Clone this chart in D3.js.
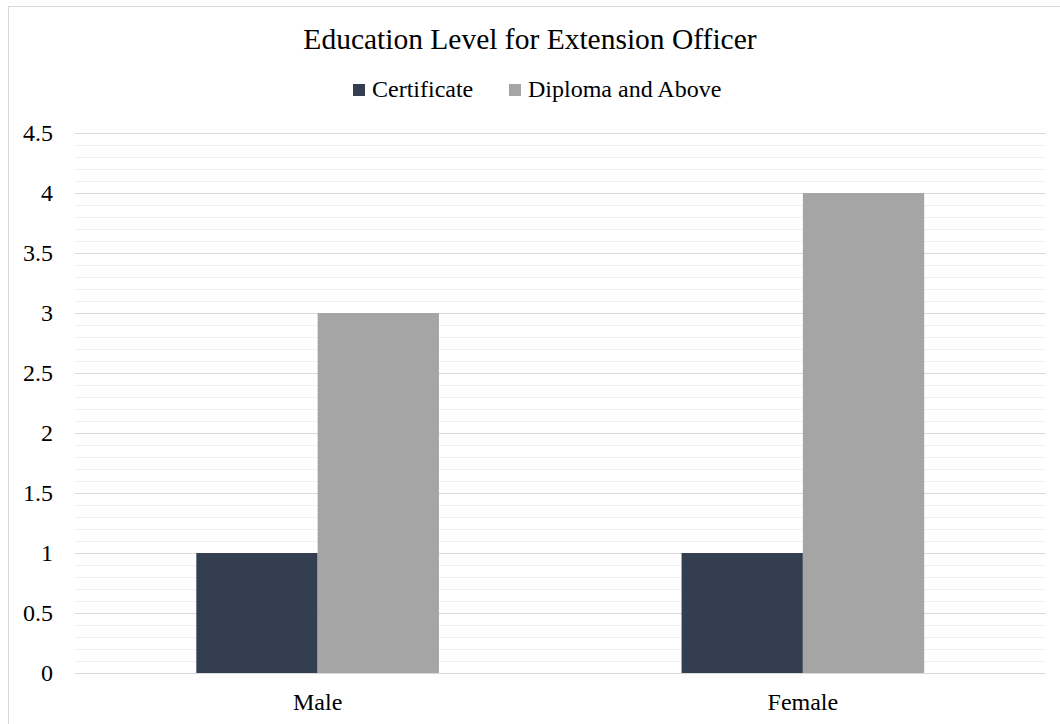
<!DOCTYPE html>
<html>
<head>
<meta charset="utf-8">
<script src="https://cdn.jsdelivr.net/npm/d3@7"></script>
<style>
  body { margin: 0; background: #fff; }
</style>
</head>
<body>
<div id="chart"></div>
<script>
// chart data
const categories = ["Male", "Female"];
const seriesNames = ["Certificate", "Diploma and Above"];
const certificateValues = [1, 1];
const diplomaValues = [3, 4];
const yTicks = [0, 0.5, 1, 1.5, 2, 2.5, 3, 3.5, 4, 4.5];
const colors = ["#333f50", "#a5a5a5"];

const svgWidth = 1060, svgHeight = 724;
const plot = { left: 75, right: 1045.5, top: 133, bottom: 673 };
const serif = "'Liberation Serif', Tinos, 'Times New Roman', 'DejaVu Serif', serif";

const svg = d3.select("#chart")
    .append("svg")
    .attr("width", svgWidth)
    .attr("height", svgHeight)
    .style("font-family", serif);

// outer chart border
svg.append("rect")
    .attr("x", 8.5).attr("y", 6.5)
    .attr("width", svgWidth).attr("height", svgHeight)
    .attr("fill", "none")
    .attr("stroke", "#d9d9d9");

const y = d3.scaleLinear().domain([0, 4.5]).range([plot.bottom, plot.top]);

const x0 = d3.scaleBand()
    .domain(categories)
    .range([plot.left, plot.right])
    .padding(0);

const x1 = d3.scaleBand()
    .domain(seriesNames)
    .range([0, x0.bandwidth()])
    .paddingInner(0)
    .paddingOuter(1);

// minor gridlines (0.1 step)
const minorTicks = d3.range(0, 46).map(d => d / 10).filter(d => Math.round(d * 10) % 5 !== 0);
svg.append("g")
    .selectAll("line")
    .data(minorTicks)
    .join("line")
    .attr("x1", plot.left).attr("x2", plot.right)
    .attr("y1", d => Math.round(y(d)) + 0.5)
    .attr("y2", d => Math.round(y(d)) + 0.5)
    .attr("stroke", "#f0f0f0");

// major gridlines
svg.append("g")
    .selectAll("line")
    .data(yTicks)
    .join("line")
    .attr("x1", plot.left).attr("x2", plot.right)
    .attr("y1", d => Math.round(y(d)) + 0.5)
    .attr("y2", d => Math.round(y(d)) + 0.5)
    .attr("stroke", "#d9d9d9");

// y tick labels
svg.append("g")
    .selectAll("text")
    .data(yTicks)
    .join("text")
    .attr("x", 53)
    .attr("y", d => y(d) + 8)
    .attr("text-anchor", "end")
    .attr("font-family", serif)
    .style("font-size", "24px")
    .text(d => d);

// bars
const rows = categories.map((c, i) => ({
    category: c,
    values: [certificateValues[i], diplomaValues[i]]
}));

const groups = svg.append("g")
    .selectAll("g")
    .data(rows)
    .join("g")
    .attr("transform", d => `translate(${x0(d.category)},0)`);

groups.selectAll("rect")
    .data(d => d.values.map((v, j) => ({ name: seriesNames[j], value: v, idx: j })))
    .join("rect")
    .attr("x", d => x1(d.name))
    .attr("y", d => y(d.value))
    .attr("width", x1.bandwidth())
    .attr("height", d => y(0) - y(d.value))
    .attr("fill", d => colors[d.idx]);

// x labels
svg.append("g")
    .selectAll("text")
    .data(categories)
    .join("text")
    .attr("x", d => x0(d) + x0.bandwidth() / 2)
    .attr("y", 710)
    .attr("text-anchor", "middle")
    .attr("font-family", serif)
    .style("font-size", "24px")
    .text(d => d);

// title
svg.append("text")
    .attr("x", 530)
    .attr("y", 49)
    .attr("text-anchor", "middle")
    .attr("font-family", serif)
    .style("font-size", "29.5px")
    .text("Education Level for Extension Officer");

// legend
const legendX = [353, 509];
const legend = svg.append("g")
    .selectAll("g")
    .data(seriesNames)
    .join("g")
    .attr("transform", (d, i) => `translate(${legendX[i]},84)`);

legend.append("rect")
    .attr("width", 12).attr("height", 12)
    .attr("fill", (d, i) => colors[i]);

legend.append("text")
    .attr("x", 19)
    .attr("y", 13)
    .attr("font-family", serif)
    .style("font-size", "24px")
    .text(d => d);
</script>
</body>
</html>
